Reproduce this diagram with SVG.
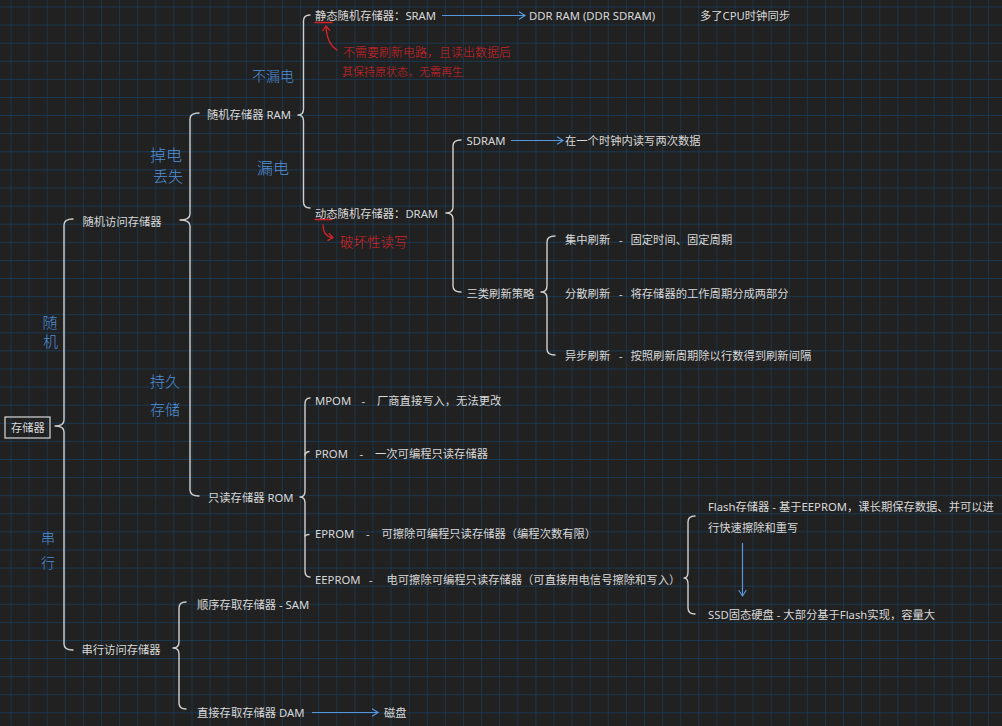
<svg xmlns="http://www.w3.org/2000/svg" width="1002" height="726" viewBox="0 0 1002 726">
<defs>
<pattern id="grid" x="10.5" y="6.5" width="18.1" height="18.1" patternUnits="userSpaceOnUse">
<path d="M0,0 V18.1 M0,0 H18.1" fill="none" stroke="#17405f" stroke-width="1.2"/>
</pattern>
<marker id="ab" markerWidth="10" markerHeight="10" refX="7" refY="5" orient="auto" markerUnits="userSpaceOnUse">
<path d="M1.5,1.5 L7,5 L1.5,8.5" fill="none" stroke="#5596dc" stroke-width="1.2" stroke-linecap="round"/>
</marker>
<marker id="ar" markerWidth="10" markerHeight="10" refX="5" refY="5" orient="auto" markerUnits="userSpaceOnUse">
<path d="M1.5,1.5 L6,5 L1.5,8.5" fill="none" stroke="#d8232a" stroke-width="1.2" stroke-linecap="round"/>
</marker>
<style>
.t{font-family:"Noto Sans","Noto Sans CJK SC",sans-serif;font-size:11.3px;fill:#d8d8d8}
.hb{font-family:"Noto Sans CJK SC",sans-serif;fill:#4f8fd8;font-weight:300}
.hr{font-family:"Noto Sans CJK SC",sans-serif;fill:#d8232a;font-weight:300}
.br{fill:none;stroke:#d0d0d0;stroke-width:1.4;stroke-linecap:round;stroke-linejoin:round}
.ba{fill:none;stroke:#5596dc;stroke-width:1.2;marker-end:url(#ab)}
.ra{fill:none;stroke:#d8232a;stroke-width:1.3;stroke-linecap:round}
</style>
</defs>
<rect width="1002" height="726" fill="#212121"/>
<rect width="1002" height="726" fill="url(#grid)"/>

<g id="connectors">
<path class="br" d="M73,219 Q64,219 64,225 L64,420 Q64,426 55,426 Q64,426 64,432 L64,644 Q64,650 73,650"/>
<path class="br" d="M199,113 Q190,113 190,119 L190,214 Q190,220 180,220 Q190,220 190,226 L190,490 Q190,496 199,496"/>
<path class="br" d="M310,15 Q303.5,15 303.5,21 L303.5,109 Q303.5,115 298,115 Q303.5,115 303.5,121 L303.5,202 Q303.5,208 310,208"/>
<path class="br" d="M461,140 Q453,140 453,146 L453,207 Q453,213 446,213 Q453,213 453,219 L453,286 Q453,292 461,292"/>
<path class="br" d="M555,236 Q547,236 547,242 L547,286 Q547,292 541,292 Q547,292 547,298 L547,349 Q547,355 555,355"/>
<path class="br" d="M310,398 Q305,398 305,404 L305,491 Q305,497 300,497 Q305,497 305,503 L305,571 Q305,577 310,577"/>
<path class="br" d="M305,455 Q305.5,452 309,451.5 M305,536 Q306,534.5 309,534.5"/>
<path class="br" d="M695,516 Q688,516 688,522 L688,572 Q688,578 684,578 Q688,578 688,584 L688,608 Q688,614 695,614"/>
<path class="br" d="M186,602 Q179,602 179,608 L179,642 Q179,648 173,648 Q179,648 179,654 L179,703 Q179,709 186,709"/>
<path class="ba" d="M442,15.5 L525,15.5"/>
<path class="ba" d="M511,140.5 L563,140.5"/>
<path class="ba" d="M742.5,543 L742.5,596"/>
<path class="ba" d="M312,712.5 L378,712.5"/>
<path class="ra" d="M315,22.5 L332,22.5"/>
<path class="ra" d="M337,50 Q327,44 326,27" marker-end="url(#ar)"/>
<path class="ra" d="M315,219.5 L332,219.5"/>
<path class="ra" d="M323,225 Q323,236 332,237.5" marker-end="url(#ar)"/>
</g>

<g id="n-root">
<rect x="5" y="417" width="45" height="21" fill="none" stroke="#d8d8d8" stroke-width="1.2"/>
<text class="t" x="11" y="432">存储器</text>
</g>
<g id="n-random"><text class="t" x="82.5" y="225.5">随机访问存储器</text></g>
<g id="n-serial"><text class="t" x="81.5" y="654">串行访问存储器</text></g>
<g id="n-ram"><text class="t" x="207" y="119">随机存储器 RAM</text></g>
<g id="n-rom"><text class="t" x="208" y="502">只读存储器 ROM</text></g>
<g id="n-sram"><text class="t" x="315" y="20">静态随机存储器：SRAM</text></g>
<g id="n-ddr"><text class="t" x="529" y="20">DDR RAM (DDR SDRAM)</text></g>
<g id="n-cpu"><text class="t" x="700" y="20">多了CPU时钟同步</text></g>
<g id="n-dram"><text class="t" x="315" y="217.5">动态随机存储器：DRAM</text></g>
<g id="n-sdram"><text class="t" x="466.5" y="145">SDRAM</text></g>
<g id="n-sdram-note"><text class="t" x="565" y="145">在一个时钟内读写两次数据</text></g>
<g id="n-refresh"><text class="t" x="466.5" y="297.5">三类刷新策略</text></g>
<g id="n-r1"><text class="t" y="244"><tspan x="565">集中刷新</tspan><tspan x="619">-</tspan><tspan x="630.5">固定时间、固定周期</tspan></text></g>
<g id="n-r2"><text class="t" y="297.5"><tspan x="565">分散刷新</tspan><tspan x="619">-</tspan><tspan x="630.5">将存储器的工作周期分成两部分</tspan></text></g>
<g id="n-r3"><text class="t" y="360"><tspan x="565">异步刷新</tspan><tspan x="619">-</tspan><tspan x="630.5">按照刷新周期除以行数得到刷新间隔</tspan></text></g>
<g id="n-mpom"><text class="t" y="405"><tspan x="315">MPOM</tspan><tspan x="361.5">-</tspan><tspan x="377">厂商直接写入，无法更改</tspan></text></g>
<g id="n-prom"><text class="t" y="458"><tspan x="315">PROM</tspan><tspan x="359.5">-</tspan><tspan x="375">一次可编程只读存储器</tspan></text></g>
<g id="n-eprom"><text class="t" y="538"><tspan x="315">EPROM</tspan><tspan x="366">-</tspan><tspan x="381.5">可擦除可编程只读存储器（编程次数有限）</tspan></text></g>
<g id="n-eeprom"><text class="t" y="584"><tspan x="315">EEPROM</tspan><tspan x="369">-</tspan><tspan x="386.5">电可擦除可编程只读存储器（可直接用电信号擦除和写入）</tspan></text></g>
<g id="n-flash"><text class="t" x="708" y="511">Flash存储器 - 基于EEPROM，课长期保存数据、并可以进</text><text class="t" x="708" y="531.5">行快速擦除和重写</text></g>
<g id="n-ssd"><text class="t" x="708" y="619">SSD固态硬盘 - 大部分基于Flash实现，容量大</text></g>
<g id="n-sam"><text class="t" x="197" y="609">顺序存取存储器 - SAM</text></g>
<g id="n-dam"><text class="t" x="197" y="717">直接存取存储器 DAM</text></g>
<g id="n-disk"><text class="t" x="384" y="717">磁盘</text></g>

<g id="notes-blue">
<text class="hb" font-size="15" x="50" y="328" text-anchor="middle">随</text>
<text class="hb" font-size="15" x="50.5" y="347" text-anchor="middle">机</text>
<text class="hb" font-size="14" x="48" y="543" text-anchor="middle">串</text>
<text class="hb" font-size="14" x="48" y="568" text-anchor="middle">行</text>
<text class="hb" font-size="16" x="150" y="161">掉电</text>
<text class="hb" font-size="15" x="153" y="182">丢失</text>
<text class="hb" font-size="15" x="150" y="387">持久</text>
<text class="hb" font-size="15" x="150" y="415">存储</text>
<text class="hb" font-size="14" x="252" y="81">不漏电</text>
<text class="hb" font-size="16" x="257" y="174">漏电</text>
</g>
<g id="notes-red">
<text class="hr" font-size="12" x="343" y="57">不需要刷新电路，且读出数据后</text>
<text class="hr" font-size="11" x="342" y="76">其保持原状态，无需再生</text>
<text class="hr" font-size="13.5" x="340" y="247">破坏性读写</text>
</g>
</svg>
